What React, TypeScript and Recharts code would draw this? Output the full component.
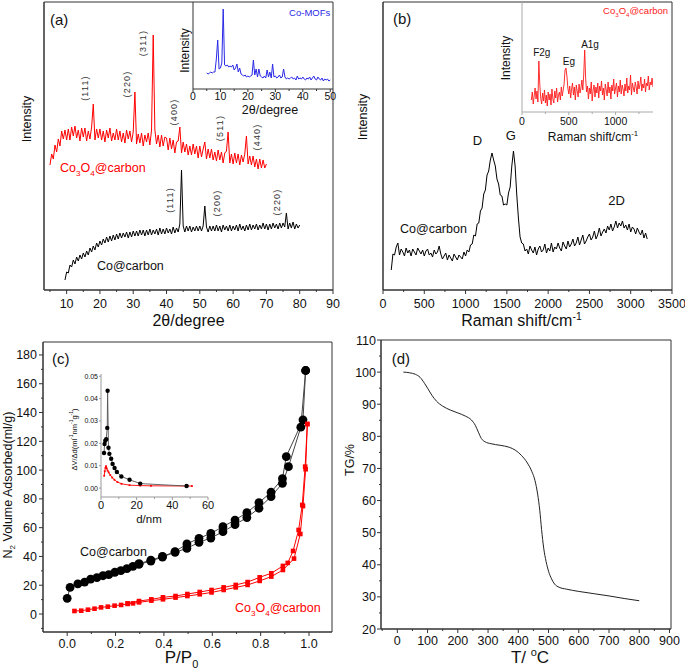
import React from 'react';
import { LineChart, Line, XAxis, YAxis, ReferenceDot, ReferenceArea } from 'recharts';

const FONT = '"Liberation Sans", Arial, Helvetica, sans-serif';
const AX = '#333';

// ---------- (a) XRD ----------
const xrdRedStart = 5;
const xrdRedStep = 0.5;
const xrdRed = [
  125, 136, 131, 145, 138, 151, 144, 159, 151, 160,
  150, 161, 150, 163, 154, 164, 152, 160, 149, 162,
  153, 162, 149, 159, 151, 163, 186, 150, 161, 152,
  161, 150, 159, 148, 160, 152, 162, 149, 157, 150,
  161, 150, 159, 148, 157, 147, 160, 151, 159, 148,
  158, 198, 146, 156, 147, 157, 144, 155, 148, 157,
  145, 160, 255, 160, 146, 155, 143, 155, 144, 153,
  152, 140, 152, 141, 150, 137, 148, 149, 163, 137,
  148, 138, 146, 135, 144, 135, 146, 136, 144, 132,
  144, 133, 141, 148, 131, 141, 132, 141, 130, 138,
  129, 140, 130, 138, 127, 137, 139, 158, 127, 136,
  126, 137, 127, 136, 125, 135, 128, 136, 154, 126,
  134, 125, 134, 123, 131, 121, 131, 122, 130, 122,
  126,
];
const xrdBlackStart = 9.5;
const xrdBlackStep = 0.5;
const xrdBlack = [
  10, 18, 17, 25, 23, 30, 26, 33, 29, 35,
  31, 37, 33, 39, 35, 42, 38, 44, 40, 47,
  43, 49, 45, 51, 47, 53, 48, 54, 49, 55,
  50, 56, 51, 57, 52, 57, 53, 58, 52, 58,
  53, 59, 54, 59, 54, 60, 55, 60, 54, 60,
  55, 61, 55, 60, 56, 61, 55, 62, 56, 61,
  56, 62, 57, 61, 56, 63, 57, 62, 58, 66,
  120, 64, 58, 64, 59, 64, 58, 63, 59, 64,
  59, 64, 59, 64, 84, 63, 58, 64, 59, 64,
  59, 65, 59, 64, 58, 65, 60, 64, 59, 65,
  59, 64, 60, 65, 59, 66, 60, 64, 59, 65,
  60, 66, 60, 65, 61, 66, 60, 65, 61, 67,
  61, 66, 60, 66, 61, 67, 62, 66, 61, 67,
  62, 67, 63, 77, 61, 67, 62, 68, 61, 66,
  62, 65,
];
const xrdTicks = [5, 10, 15, 20, 25, 30, 35, 40, 45, 50, 55, 60, 65, 70, 75, 80, 85, 90];
const xrdMajors = [10, 20, 30, 40, 50, 60, 70, 80, 90];

// inset (a) Co-MOFs
const mofStart = 5;
const mofStep = 0.5;
const mofBlue = [
  16, 15, 16, 17, 16, 17, 17, 30, 49, 20,
  21, 26, 80, 24, 23, 24, 22, 23, 22, 24,
  19, 21, 25, 17, 21, 15, 14, 13, 14, 12,
  13, 12, 13, 14, 29, 14, 20, 12, 20, 13,
  12, 11, 13, 11, 19, 12, 17, 11, 25, 12,
  13, 11, 12, 14, 11, 12, 20, 12, 10, 11,
  10, 11, 12, 10, 11, 9, 13, 10, 11, 10,
  12, 10, 9, 11, 10, 12, 9, 11, 13, 10,
  9, 12, 10, 9, 11, 8, 10, 9, 10, 8,
  9,
];
const mofTicks = [0, 5, 10, 15, 20, 25, 30, 35, 40, 45, 50];
const mofMajors = [0, 10, 20, 30, 40, 50];

// ---------- (b) Raman ----------
const ramanStart = 100;
const ramanStep = 20;
const ramanBlack = [
  20, 36, 35, 43, 47, 35, 41, 38, 34, 42,
  37, 40, 34, 41, 38, 35, 42, 39, 36, 40,
  34, 39, 41, 35, 37, 33, 40, 36, 38, 44,
  36, 31, 34, 37, 30, 35, 32, 29, 36, 33,
  30, 35, 33, 31, 38, 34, 40, 38, 45, 46,
  55, 54, 66, 67, 79, 82, 96, 100, 115, 119,
  130, 137, 130, 124, 111, 106, 95, 94, 85, 86,
  85, 97, 103, 124, 139, 124, 95, 72, 53, 47,
  46, 39, 41, 36, 44, 40, 37, 43, 35, 41,
  44, 38, 40, 46, 37, 42, 39, 47, 38, 43,
  41, 47, 42, 39, 48, 44, 41, 49, 43, 46,
  51, 44, 47, 53, 45, 50, 55, 46, 49, 53,
  56, 50, 53, 59, 51, 55, 62, 54, 58, 61,
  57, 64, 60, 66, 59, 63, 69, 62, 67, 64,
  69, 62, 65, 60, 66, 58, 63, 61, 56, 62,
  58, 55, 60, 52, 57, 51,
];
const ramanTicks = [0, 250, 500, 750, 1000, 1250, 1500, 1750, 2000, 2250, 2500, 2750, 3000, 3250, 3500];
const ramanMajors = [0, 500, 1000, 1500, 2000, 2500, 3000, 3500];

// inset (b) Co3O4@carbon Raman
const ramanInsetStart = 100;
const ramanInsetStep = 10;
const ramanRed = [
  12, 20, 8, 16, 24, 13, 21, 10, 51, 28,
  14, 8, 19, 11, 22, 9, 17, 6, 20, 12,
  18, 7, 23, 13, 9, 21, 14, 24, 10, 17,
  20, 12, 25, 16, 22, 28, 42, 44, 36, 24,
  18, 26, 14, 23, 29, 17, 25, 12, 27, 21,
  15, 28, 19, 24, 32, 22, 38, 62, 34, 20,
  26, 13, 24, 18, 30, 11, 22, 27, 15, 25,
  19, 29, 14, 26, 21, 31, 17, 24, 12, 28,
  22, 16, 30, 19, 25, 13, 27, 21, 33, 18,
  24, 29, 15, 26, 20, 32, 18, 27, 23, 16,
  28, 21, 34, 19, 26, 22, 37, 17, 29, 24,
  20, 30, 25, 18, 31, 23, 27, 35, 21, 28,
  24, 33, 20, 29, 26, 36, 22, 30, 27, 34,
  25,
];
const ramanInsetTicks = [0, 250, 500, 750, 1000, 1250];
const ramanInsetMajors = [0, 500, 1000];

// ---------- (c) N2 isotherms ----------
const coAds = [
  [0.0, 10.9], [0.012, 18.5], [0.044, 20.9], [0.072, 22.2], [0.097, 24.3], [0.123, 25.3],
  [0.148, 26.6], [0.172, 27.3], [0.197, 29.0], [0.222, 30.1], [0.247, 31.5], [0.272, 33.1],
  [0.297, 34.5], [0.346, 36.8], [0.394, 39.6], [0.446, 42.9], [0.495, 45.6], [0.545, 49.8],
  [0.594, 52.8], [0.644, 57.2], [0.694, 62.1], [0.743, 67.0], [0.793, 73.5], [0.843, 81.6],
  [0.89, 90.8], [0.915, 102.4], [0.966, 129.8], [0.986, 169.2],
];
const coDes = [
  [0.986, 169.2], [0.975, 134.9], [0.906, 109.4], [0.89, 94.1], [0.843, 84.6], [0.793, 77.4],
  [0.743, 70.4], [0.694, 65.3], [0.644, 60.7], [0.594, 56.0], [0.545, 52.6], [0.495, 48.7],
  [0.446, 43.4], [0.394, 40.0], [0.346, 37.4], [0.297, 35.0],
];
const cooAds = [
  [0.03, 2.1], [0.058, 2.3], [0.086, 3.0], [0.113, 3.7], [0.14, 4.6], [0.168, 5.1], [0.196, 5.8],
  [0.223, 6.3], [0.25, 7.0], [0.272, 7.4], [0.297, 8.1], [0.348, 9.3], [0.396, 10.2], [0.448, 11.4],
  [0.497, 12.5], [0.548, 13.7], [0.597, 15.0], [0.647, 16.7], [0.697, 18.5], [0.746, 20.2],
  [0.796, 23.0], [0.844, 26.0], [0.892, 30.6], [0.938, 38.5], [0.964, 55.6], [0.975, 75.0],
  [0.986, 100.6], [0.993, 132.0],
];
const cooDes = [
  [0.993, 132.0], [0.984, 102.4], [0.972, 75.8], [0.957, 58.4], [0.934, 43.8], [0.912, 35.5],
  [0.892, 33.4], [0.844, 28.3], [0.796, 25.5], [0.746, 22.2], [0.697, 20.2], [0.647, 18.5],
  [0.597, 16.7], [0.548, 15.3], [0.497, 13.9], [0.448, 12.5], [0.396, 11.6], [0.348, 10.2],
  [0.297, 9.0], [0.25, 7.4],
];
const betXTicks = [0, 0.1, 0.2, 0.3, 0.4, 0.5, 0.6, 0.7, 0.8, 0.9, 1.0];
const betXMajors = [0, 0.2, 0.4, 0.6, 0.8, 1.0];
const betYTicks = [-10, 0, 10, 20, 30, 40, 50, 60, 70, 80, 90, 100, 110, 120, 130, 140, 150, 160, 170, 180];
const betYMajors = [0, 20, 40, 60, 80, 100, 120, 140, 160, 180];

// inset (c) pore size distribution
const psdCo = [
  [1.7, 0.0157], [2.0, 0.0197], [2.4, 0.0212], [2.9, 0.0218], [3.5, 0.0269], [3.7, 0.0435],
  [4.2, 0.018], [4.7, 0.0153], [5.7, 0.0131], [6.5, 0.0108], [7.6, 0.009], [8.9, 0.0072],
  [11.4, 0.0052], [16.0, 0.0037], [22.0, 0.002], [48.0, 0.0009],
];
const psdCoo = [
  [1.8, 0.0055], [2.1, 0.0075], [2.5, 0.009], [2.8, 0.0098], [3.2, 0.0088], [3.7, 0.0078],
  [4.3, 0.007], [5.2, 0.0058], [6.3, 0.0047], [7.5, 0.0037], [9.2, 0.0027], [11.5, 0.0019],
  [16.0, 0.0013], [22.0, 0.0011], [28.0, 0.001], [51.0, 0.0009],
];
const psdXTicks = [0, 10, 20, 30, 40, 50, 60];
const psdXMajors = [0, 20, 40, 60];
const psdYTicks = [0, 0.01, 0.02, 0.03, 0.04, 0.05];

// ---------- (d) TG ----------
const tg = [
  [20, 100.0], [40, 99.8], [60, 99.3], [75, 98.4], [90, 96.5], [100, 95.0], [115, 92.7],
  [130, 90.9], [150, 89.4], [175, 88.2], [200, 87.3], [225, 86.3], [245, 85.1], [258, 83.4],
  [268, 81.3], [278, 79.3], [290, 78.3], [310, 77.7], [340, 77.2], [370, 76.6], [390, 75.7],
  [410, 74.1], [430, 71.7], [445, 69.0], [455, 66.3], [464, 62.0], [471, 57.0], [477, 51.0],
  [484, 45.2], [492, 41.0], [500, 38.0], [510, 35.6], [520, 34.0], [535, 33.0], [560, 32.4],
  [600, 31.7], [650, 31.0], [700, 30.3], [750, 29.5], [800, 28.8],
];
const tgXTicks = [-50, 0, 50, 100, 150, 200, 250, 300, 350, 400, 450, 500, 550, 600, 650, 700, 750, 800, 850, 900];
const tgXMajors = [0, 100, 200, 300, 400, 500, 600, 700, 800, 900];
const tgYTicks = [20, 25, 30, 35, 40, 45, 50, 55, 60, 65, 70, 75, 80, 85, 90, 95, 100, 105, 110];
const tgYMajors = [20, 30, 40, 50, 60, 70, 80, 90, 100, 110];

// ---------- helpers ----------
const grid = (x0: number, step: number, ys: number[]) =>
  ys.map((y, i) => ({ x: Math.round((x0 + i * step) * 1000) / 1000, y }));
const pairs = (p: number[][]) => p.map(([x, y]) => ({ x, y }));

interface TickCfg {
  side: 'bottom' | 'left';
  majors: number[];
  fmt: (v: number) => string;
  fs: number;
  major: number;
  minor: number;
  gap: number;
  stroke: string;
}
const tickRenderer = (c: TickCfg) => (props: any) => {
  const { x, y, payload } = props;
  const v = Number(payload.value);
  const isMajor = c.majors.some((m) => Math.abs(m - v) < 1e-6);
  const len = isMajor ? c.major : c.minor;
  if (c.side === 'bottom') {
    return (
      <g>
        <line x1={x} x2={x} y1={y} y2={y + len} stroke={c.stroke} strokeWidth={1} />
        {isMajor && (
          <text x={x} y={y + c.gap} textAnchor="middle" fontSize={c.fs} fontFamily={FONT} fill="#111">
            {c.fmt(v)}
          </text>
        )}
      </g>
    );
  }
  return (
    <g>
      <line x1={x} x2={x - len} y1={y} y2={y} stroke={c.stroke} strokeWidth={1} />
      {isMajor && (
        <text x={x - c.gap} y={y} dy="0.36em" textAnchor="end" fontSize={c.fs} fontFamily={FONT} fill="#111">
          {c.fmt(v)}
        </text>
      )}
    </g>
  );
};

const xTitle = (content: React.ReactNode, dy: number, shift: number, fs: number) => (props: any) => {
  const vb = props.viewBox || { x: 0, y: 0, width: 0, height: 0 };
  return (
    <text x={vb.x + vb.width / 2 + shift} y={vb.y + dy} textAnchor="middle" fontSize={fs} fontFamily={FONT} fill="#111">
      {content}
    </text>
  );
};
const yTitle = (content: React.ReactNode, dx: number, shift: number, fs: number) => (props: any) => {
  const vb = props.viewBox || { x: 0, y: 0, width: 0, height: 0 };
  const cx = vb.x + vb.width - dx;
  const cy = vb.y + vb.height / 2 + shift;
  return (
    <text x={cx} y={cy} transform={`rotate(-90 ${cx} ${cy})`} textAnchor="middle" dominantBaseline="central"
      fontSize={fs} fontFamily={FONT} fill="#111">
      {content}
    </text>
  );
};

interface TOpt { fs: number; anchor?: 'start' | 'middle' | 'end'; color?: string; rotate?: boolean; spacing?: number }
const textDot = (key: string, x: number, y: number, content: React.ReactNode, o: TOpt) => (
  <ReferenceDot
    key={key}
    x={x}
    y={y}
    r={0}
    ifOverflow="visible"
    shape={(p: any) => (
      <text
        x={p.cx}
        y={p.cy}
        fontSize={o.fs}
        fontFamily={FONT}
        fill={o.color || '#111'}
        textAnchor={o.anchor || 'start'}
        letterSpacing={o.spacing}
        dominantBaseline={o.rotate ? 'central' : undefined}
        transform={o.rotate ? `rotate(-90 ${p.cx} ${p.cy})` : undefined}
      >
        {content}
      </text>
    )}
  />
);

const coo = (fs: number) => (
  <>
    Co<tspan dy={fs * 0.3} fontSize={fs * 0.65}>3</tspan>
    <tspan dy={-fs * 0.3}>O</tspan>
    <tspan dy={fs * 0.3} fontSize={fs * 0.65}>4</tspan>
    <tspan dy={-fs * 0.3}>@carbon</tspan>
  </>
);
const cmInv = (fs: number) => (
  <>
    Raman shift/cm<tspan dy={-fs * 0.4} fontSize={fs * 0.65}>-1</tspan>
  </>
);

const circleDot = (r: number, color: string) => (p: any) => (
  <circle key={`${p.index}-${p.cx}`} cx={p.cx} cy={p.cy} r={r} fill={color} stroke="none" />
);
const squareDot = (s: number, color: string) => (p: any) => (
  <rect key={`${p.index}-${p.cx}`} x={p.cx - s / 2} y={p.cy - s / 2} width={s} height={s} fill={color} stroke="none" />
);

// annotation layouts (data coordinates)
const xrdPeakLabels = [
  { x: 15.5, y: 202, t: '(111)' },
  { x: 28.1, y: 206, t: '(220)' },
  { x: 32.9, y: 247, t: '(311)' },
  { x: 42.1, y: 178, t: '(400)' },
  { x: 56.2, y: 162, t: '(511)' },
  { x: 67.2, y: 153, t: '(440)' },
  { x: 41.1, y: 90, t: '(111)' },
  { x: 55.2, y: 87, t: '(200)' },
  { x: 73.2, y: 88, t: '(220)' },
];
const ramanBandLabels = [
  { x: 1144, y: 145, t: 'D' },
  { x: 1548, y: 150, t: 'G' },
  { x: 2830, y: 85, t: '2D' },
];
const ramanInsetLabels = [
  { x: 211, y: 56, t: 'F2g' },
  { x: 502, y: 47, t: 'Eg' },
  { x: 727, y: 64, t: 'A1g' },
];

const TICK_FS = 12.5;

function PanelA() {
  return (
    <LineChart width={340} height={340} margin={{ top: 2, right: 7, bottom: 0, left: 4 }}>
      <XAxis type="number" dataKey="x" domain={[3.2, 90]} allowDataOverflow ticks={xrdTicks} interval={0}
        tickSize={0} tickMargin={0} tickLine={false} height={50} stroke={AX}
        tick={tickRenderer({ side: 'bottom', majors: xrdMajors, fmt: (v) => String(v), fs: TICK_FS, major: 4, minor: 2, gap: 18, stroke: AX })}
        label={xTitle('2θ/degree', 36, 0, 16)} />
      <YAxis type="number" domain={[0, 288]} allowDataOverflow tick={false} tickLine={false} width={40} stroke={AX}
        label={yTitle('Intensity', 17, -27, 12.5)} />
      <ReferenceArea x1={3.2} x2={90} y1={0} y2={288} fill="none" stroke={AX} strokeWidth={1} ifOverflow="visible" />
      <Line data={grid(xrdRedStart, xrdRedStep, xrdRed)} dataKey="y" stroke="#ff0000" strokeWidth={1} dot={false} isAnimationActive={false} />
      <Line data={grid(xrdBlackStart, xrdBlackStep, xrdBlack)} dataKey="y" stroke="#000" strokeWidth={1} dot={false} isAnimationActive={false} />
      {xrdPeakLabels.map((l, i) => textDot(`pk${i}`, l.x, l.y, l.t, { fs: 9, anchor: 'middle', rotate: true, color: '#333', spacing: 1.2 }))}
      {textDot('pa', 5.0, 265, '(a)', { fs: 15 })}
      {textDot('ca', 8.0, 118, coo(12.5), { fs: 12.5, color: '#ff0000' })}
      {textDot('cb', 19.1, 20, 'Co@carbon', { fs: 12.5 })}
    </LineChart>
  );
}

function InsetA() {
  return (
    <LineChart width={190} height={125} margin={{ top: 2, right: 7, bottom: 0, left: 13 }}>
      <XAxis type="number" dataKey="x" domain={[0, 51]} allowDataOverflow ticks={mofTicks} interval={0}
        tickSize={0} tickMargin={0} tickLine={false} height={36} stroke={AX}
        tick={tickRenderer({ side: 'bottom', majors: mofMajors, fmt: (v) => String(v), fs: 10.5, major: 3, minor: 2, gap: 11, stroke: AX })}
        label={xTitle('2θ/degree', 25, 7, 12.5)} />
      <YAxis type="number" domain={[0, 87]} allowDataOverflow tick={false} tickLine={false} width={30} stroke={AX}
        label={yTitle('Intensity', 8, 5, 12)} />
      <Line data={grid(mofStart, mofStep, mofBlue)} dataKey="y" stroke="#2a2ae6" strokeWidth={1} dot={false} isAnimationActive={false} />
      {textDot('mof', 35.0, 73, 'Co-MOFs', { fs: 9.5, color: '#2a2ae6' })}
    </LineChart>
  );
}

function PanelB() {
  return (
    <LineChart width={345} height={340} margin={{ top: 2, right: 13, bottom: 0, left: 3 }}>
      <XAxis type="number" dataKey="x" domain={[0, 3500]} allowDataOverflow ticks={ramanTicks} interval={0}
        tickSize={0} tickMargin={0} tickLine={false} height={50} stroke={AX}
        tick={tickRenderer({ side: 'bottom', majors: ramanMajors, fmt: (v) => String(v), fs: TICK_FS, major: 4, minor: 2, gap: 18, stroke: AX })}
        label={xTitle(cmInv(16), 36, -6, 16)} />
      <YAxis type="number" domain={[0, 288]} allowDataOverflow tick={false} tickLine={false} width={40} stroke={AX}
        label={yTitle('Intensity', 20, -29, 12.5)} />
      <ReferenceArea x1={0} x2={3500} y1={0} y2={288} fill="none" stroke={AX} strokeWidth={1} ifOverflow="visible" />
      <Line data={grid(ramanStart, ramanStep, ramanBlack)} dataKey="y" stroke="#000" strokeWidth={1} dot={false} isAnimationActive={false} />
      {ramanBandLabels.map((l, i) => textDot(`rb${i}`, l.x, l.y, l.t, { fs: 13, anchor: 'middle' }))}
      {textDot('pb', 121, 266, '(b)', { fs: 15 })}
      {textDot('cc', 206, 57, 'Co@carbon', { fs: 12.5 })}
    </LineChart>
  );
}

function InsetB() {
  return (
    <LineChart width={200} height={150} margin={{ top: 2, right: 17, bottom: 0, left: 22 }}>
      <XAxis type="number" dataKey="x" domain={[0, 1400]} allowDataOverflow ticks={ramanInsetTicks} interval={0}
        tickSize={0} tickMargin={0} tickLine={false} height={38} stroke="#aaa"
        tick={tickRenderer({ side: 'bottom', majors: ramanInsetMajors, fmt: (v) => String(v), fs: 10.5, major: 3, minor: 2, gap: 13, stroke: '#aaa' })}
        label={xTitle(cmInv(12), 29, 5.5, 12)} />
      <YAxis type="number" domain={[0, 110]} allowDataOverflow tick={false} tickLine={false} width={30} stroke="#aaa"
        label={yTitle('Intensity', 16, 1, 12)} />
      <Line data={grid(ramanInsetStart, ramanInsetStep, ramanRed)} dataKey="y" stroke="#ff1a1a" strokeWidth={0.9} dot={false} isAnimationActive={false} />
      {ramanInsetLabels.map((l, i) => textDot(`ri${i}`, l.x, l.y, l.t, { fs: 10, anchor: 'middle' }))}
      {textDot('cri', 866, 98, coo(9.5), { fs: 9.5, color: '#ff1a1a' })}
    </LineChart>
  );
}

function PanelC() {
  return (
    <LineChart width={340} height={351} margin={{ top: 22, right: 8, bottom: 0, left: 3 }}>
      <XAxis type="number" dataKey="x" domain={[-0.1, 1.095]} allowDataOverflow ticks={betXTicks} interval={0}
        tickSize={0} tickMargin={0} tickLine={false} height={39} stroke={AX}
        tick={tickRenderer({ side: 'bottom', majors: betXMajors, fmt: (v) => v.toFixed(1), fs: TICK_FS, major: 4, minor: 2, gap: 16, stroke: AX })}
        label={xTitle(<>P/P<tspan dy={5} fontSize={11}>0</tspan></>, 31, -6, 17)} />
      <YAxis type="number" domain={[-12.5, 189]} allowDataOverflow ticks={betYTicks} interval={0}
        tickSize={0} tickMargin={0} tickLine={false} width={40} stroke={AX}
        tick={tickRenderer({ side: 'left', majors: betYMajors, fmt: (v) => String(v), fs: TICK_FS, major: 4, minor: 2, gap: 6, stroke: AX })}
        label={yTitle(<>N<tspan dy={4} fontSize={8}>2</tspan><tspan dy={-4}> Volume Adsorbed(ml/g)</tspan></>, 35, -2, 12.5)} />
      <ReferenceArea x1={-0.1} x2={1.095} y1={-12.5} y2={189} fill="none" stroke={AX} strokeWidth={1} ifOverflow="visible" />
      <Line data={pairs(coAds)} dataKey="y" stroke="#444" strokeWidth={1} dot={circleDot(4.4, '#000')} isAnimationActive={false} />
      <Line data={pairs(coDes)} dataKey="y" stroke="#444" strokeWidth={1} dot={circleDot(4.4, '#000')} isAnimationActive={false} />
      <Line data={pairs(cooAds)} dataKey="y" stroke="#ff0000" strokeWidth={1} dot={squareDot(4.6, '#ff0000')} isAnimationActive={false} />
      <Line data={pairs(cooDes)} dataKey="y" stroke="#ff0000" strokeWidth={1} dot={squareDot(4.6, '#ff0000')} isAnimationActive={false} />
      {textDot('pc', -0.063, 173.7, '(c)', { fs: 15 })}
      {textDot('cd', 0.053, 40.3, 'Co@carbon', { fs: 12.5 })}
      {textDot('ce', 0.694, 1.4, coo(12.5), { fs: 12.5, color: '#ff0000' })}
    </LineChart>
  );
}

function InsetC() {
  return (
    <LineChart width={180} height={170} margin={{ top: 14, right: 22, bottom: 0, left: 21 }}>
      <XAxis type="number" dataKey="x" domain={[0, 60]} allowDataOverflow ticks={psdXTicks} interval={0}
        tickSize={0} tickMargin={0} tickLine={false} height={33} stroke="#999"
        tick={tickRenderer({ side: 'bottom', majors: psdXMajors, fmt: (v) => String(v), fs: 11, major: 3, minor: 2, gap: 12, stroke: '#999' })}
        label={xTitle('d/nm', 26, -5.5, 11.5)} />
      <YAxis type="number" domain={[-0.004, 0.051]} allowDataOverflow ticks={psdYTicks} interval={0}
        tickSize={0} tickMargin={0} tickLine={false} width={30} stroke="#999"
        tick={tickRenderer({ side: 'left', majors: psdYTicks, fmt: (v) => v.toFixed(2), fs: 7, major: 2, minor: 1, gap: 3, stroke: '#999' })}
        label={yTitle(<>ΔV/Δd(ml<tspan dy={-3} fontSize={5}>-1</tspan><tspan dy={3}>nm</tspan><tspan dy={-3} fontSize={5}>-1</tspan><tspan dy={3}>g</tspan><tspan dy={-3} fontSize={5}>-1</tspan><tspan dy={3}>)</tspan></>, 27, 4, 7.5)} />
      <Line data={pairs(psdCoo)} dataKey="y" stroke="#ff0000" strokeWidth={0.9} dot={squareDot(1.8, '#ff0000')} isAnimationActive={false} />
      <Line data={pairs(psdCo)} dataKey="y" stroke="#555" strokeWidth={0.9} dot={circleDot(2.2, '#000')} isAnimationActive={false} />
    </LineChart>
  );
}

function PanelD() {
  return (
    <LineChart width={345} height={351} margin={{ top: 20, right: 14, bottom: 0, left: 1 }}>
      <XAxis type="number" dataKey="x" domain={[-54, 905]} allowDataOverflow ticks={tgXTicks} interval={0}
        tickSize={0} tickMargin={0} tickLine={false} height={42} stroke={AX}
        tick={tickRenderer({ side: 'bottom', majors: tgXMajors, fmt: (v) => String(v), fs: TICK_FS, major: 4, minor: 2, gap: 16, stroke: AX })}
        label={xTitle(<>T/ <tspan dy={-7} fontSize={11}>o</tspan><tspan dy={7}>C</tspan></>, 34, 4, 17)} />
      <YAxis type="number" domain={[20, 110]} allowDataOverflow ticks={tgYTicks} interval={0}
        tickSize={0} tickMargin={0} tickLine={false} width={40} stroke={AX}
        tick={tickRenderer({ side: 'left', majors: tgYMajors, fmt: (v) => String(v), fs: TICK_FS, major: 4, minor: 2, gap: 5, stroke: AX })}
        label={yTitle('TG/%', 31, -24.5, 12.5)} />
      <ReferenceArea x1={-54} x2={905} y1={20} y2={110} fill="none" stroke={AX} strokeWidth={1} ifOverflow="visible" />
      <Line data={pairs(tg)} dataKey="y" type="monotone" stroke="#222" strokeWidth={1} dot={false} isAnimationActive={false} />
      {textDot('pd', -18.6, 102.5, '(d)', { fs: 15 })}
    </LineChart>
  );
}

export default function App() {
  return (
    <div style={{ position: 'absolute', left: 0, top: 0, width: 685, height: 671, background: '#fff', overflow: 'hidden' }}>
      <div style={{ position: 'absolute', left: 0, top: 0 }}><PanelA /></div>
      <div style={{ position: 'absolute', left: 340, top: 0 }}><PanelB /></div>
      <div style={{ position: 'absolute', left: 0, top: 320 }}><PanelC /></div>
      <div style={{ position: 'absolute', left: 340, top: 320 }}><PanelD /></div>
      <div style={{ position: 'absolute', left: 150, top: 0 }}><InsetA /></div>
      <div style={{ position: 'absolute', left: 470, top: 0 }}><InsetB /></div>
      <div style={{ position: 'absolute', left: 50, top: 360 }}><InsetC /></div>
    </div>
  );
}
